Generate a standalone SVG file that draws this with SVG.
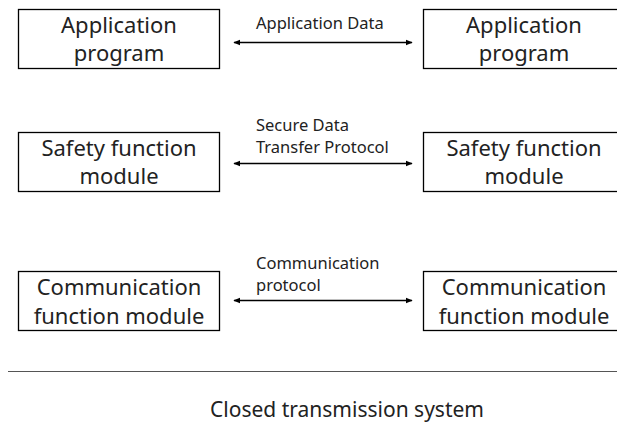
<svg xmlns="http://www.w3.org/2000/svg" width="617" height="423" viewBox="0 0 617 423">
<defs>
<marker id="ah" viewBox="0 0 10 10" refX="9" refY="5" markerWidth="7" markerHeight="7" orient="auto-start-reverse" markerUnits="userSpaceOnUse">
<path d="M0,1 L10,5 L0,9 z" fill="#000"/>
</marker>
<style>
.box{fill:#fff;stroke:#000;stroke-width:1.3}
.bt{font-family:"Noto Sans","Open Sans",sans-serif;font-size:22px;fill:#222;text-anchor:middle}
.lb{font-family:"Noto Sans","Open Sans",sans-serif;font-size:16.5px;fill:#222}
.ar{stroke:#000;stroke-width:1.5;fill:none;marker-start:url(#ah);marker-end:url(#ah)}
</style>
</defs>
<rect width="617" height="423" fill="#fff"/>
<g id="app-left"><rect class="box" x="18.5" y="9.5" width="201" height="59"/><text class="bt" x="119" y="33">Application</text><text class="bt" x="119" y="61">program</text></g>
<g id="app-right"><rect class="box" x="423.5" y="9.5" width="201" height="59"/><text class="bt" x="524" y="33">Application</text><text class="bt" x="524" y="61">program</text></g>
<g id="safety-left"><rect class="box" x="18.5" y="132.5" width="201" height="59"/><text class="bt" x="119" y="156">Safety function</text><text class="bt" x="119" y="183.5">module</text></g>
<g id="safety-right"><rect class="box" x="423.5" y="132.5" width="201" height="59"/><text class="bt" x="524" y="156">Safety function</text><text class="bt" x="524" y="183.5">module</text></g>
<g id="comm-left"><rect class="box" x="18.5" y="271.5" width="201" height="59"/><text class="bt" x="119" y="295">Communication</text><text class="bt" x="119" y="323.5">function module</text></g>
<g id="comm-right"><rect class="box" x="423.5" y="271.5" width="201" height="59"/><text class="bt" x="524" y="295">Communication</text><text class="bt" x="524" y="323.5">function module</text></g>
<g id="connectors">
<line class="ar" x1="234" y1="42.5" x2="412" y2="42.5"/>
<line class="ar" x1="234" y1="163.5" x2="412" y2="163.5"/>
<line class="ar" x1="234" y1="300.5" x2="412" y2="300.5"/>
<text class="lb" x="256" y="28.5">Application Data</text>
<text class="lb" x="256" y="131">Secure Data</text>
<text class="lb" x="256" y="153">Transfer Protocol</text>
<text class="lb" x="256" y="268.5">Communication</text>
<text class="lb" x="256" y="291">protocol</text>
</g>
<line x1="8" y1="371.5" x2="617" y2="371.5" stroke="#555" stroke-width="1.2"/>
<text x="347" y="417" font-family="Noto Sans, sans-serif" font-size="21" fill="#222" text-anchor="middle">Closed transmission system</text>
</svg>
